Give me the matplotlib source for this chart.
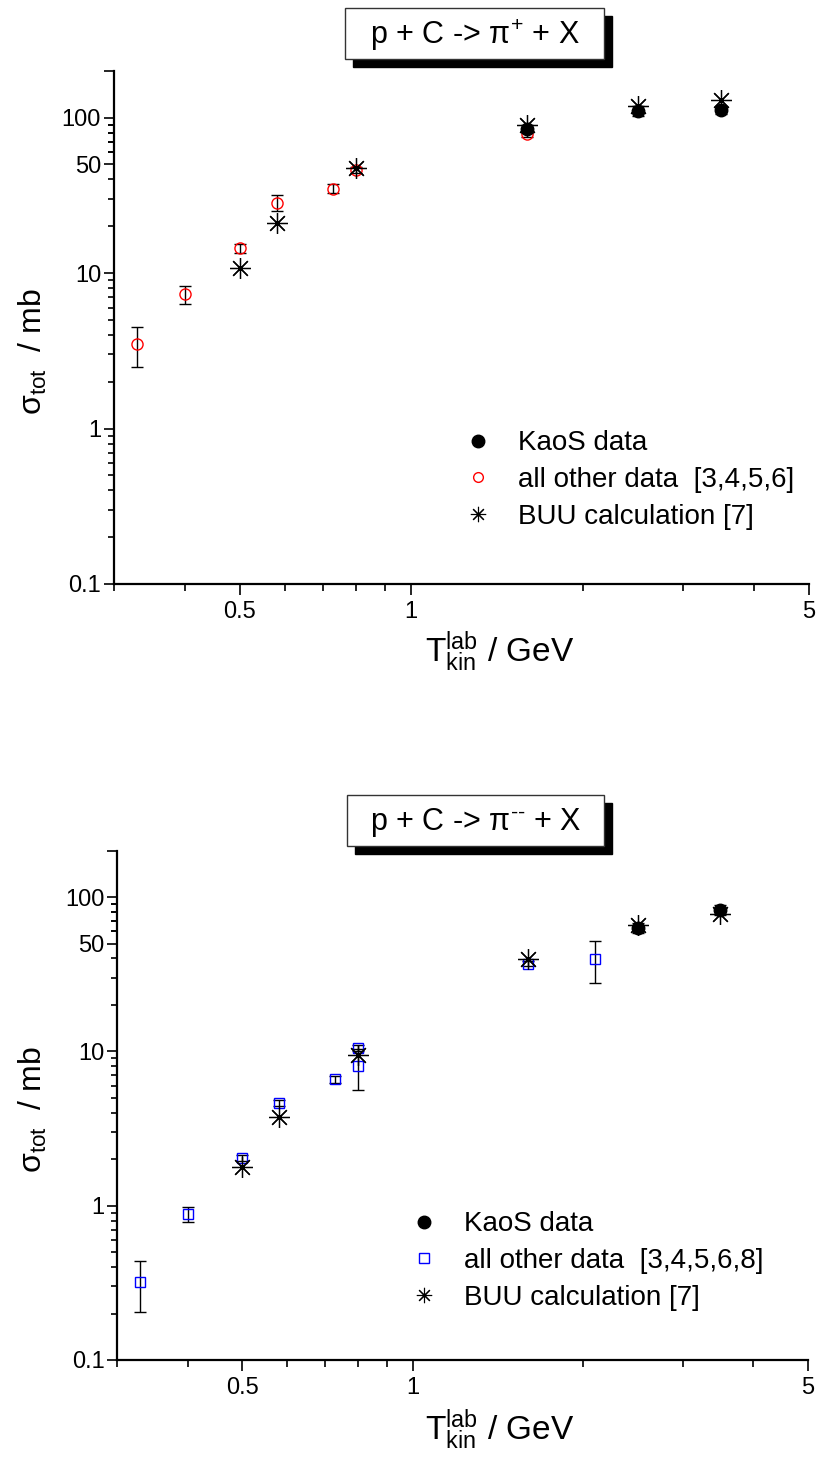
import matplotlib
matplotlib.use("Agg")
import matplotlib.pyplot as plt
from matplotlib.lines import Line2D
from matplotlib.patches import Rectangle
from matplotlib.ticker import FixedLocator, NullFormatter, FixedFormatter

plt.rcParams['font.family'] = ['Liberation Sans', 'DejaVu Sans']
plt.rcParams['mathtext.fontset'] = 'custom'
plt.rcParams['mathtext.rm'] = 'Liberation Sans'
plt.rcParams['mathtext.it'] = 'Liberation Sans:italic'
plt.rcParams['mathtext.bf'] = 'Liberation Sans:bold'

# ---------------- data: p + C -> pi+ + X ----------------
kaos_x_p = [1.6, 2.5, 3.5]
kaos_y_p = [84, 110, 111]
kaos_e_p = [5, 8, 5]
other_x_p = [0.33, 0.4, 0.5, 0.58, 0.73, 0.8, 1.6]
other_y_p = [3.5, 7.3, 14.4, 28.4, 34.9, 45.9, 78]
other_e_p = [1.0, 1.0, 1.0, 3.5, 2.3, 2.0, 3.0]
buu_x_p = [0.5, 0.58, 0.8, 1.6, 2.5, 3.5]
buu_y_p = [10.8, 20.9, 47.2, 89.3, 118, 130]

# ---------------- data: p + C -> pi- + X ----------------
kaos_x_m = [2.5, 3.5]
kaos_y_m = [63.2, 82.4]
kaos_e_m = [5, 6]
other_x_m = [0.33, 0.4, 0.5, 0.58, 0.73, 0.8, 0.8, 1.6, 2.1]
other_y_m = [0.32, 0.88, 2.04, 4.63, 6.58, 10.5, 8.0, 37.1, 39.8]
other_e_m = [0.115, 0.1, 0.1, 0.2, 0.3, 0.5, 2.4, 1.5, 12]
buu_x_m = [0.5, 0.58, 0.8, 1.6, 2.5, 3.5]
buu_y_m = [1.77, 3.75, 9.42, 39.6, 65.8, 77.6]

x_major = [0.5, 1, 5]
x_major_labels = ['0.5', '1', '5']
x_minor = [0.3, 0.4, 0.6, 0.7, 0.8, 0.9, 2, 3, 4]
y_major = [0.1, 1, 10, 50, 100, 200]
y_major_labels = ['0.1', '1', '10', '50', '100', '']
y_minor = [m * d for d in (0.1, 1, 10) for m in range(2, 10)] + [60, 70, 80, 90]
y_minor = [v for v in y_minor if v not in (50,)]

W, H = 816, 1461
fig = plt.figure(figsize=(W / 100, H / 100), dpi=100)

def fx(px):
    return px / W

def fy(py):
    return 1 - py / H

ASTER = (8, 2, 0)

def make_axes(rect):
    ax = fig.add_axes(rect)
    ax.set_xscale('log')
    ax.set_yscale('log')
    ax.set_xlim(0.3, 5)
    ax.set_ylim(0.1, 200)
    for s in ('top', 'right'):
        ax.spines[s].set_visible(False)
    for s in ('left', 'bottom'):
        ax.spines[s].set_linewidth(1.6)
    ax.xaxis.set_major_locator(FixedLocator(x_major))
    ax.xaxis.set_major_formatter(FixedFormatter(x_major_labels))
    ax.xaxis.set_minor_locator(FixedLocator(x_minor))
    ax.xaxis.set_minor_formatter(NullFormatter())
    ax.yaxis.set_major_locator(FixedLocator(y_major))
    ax.yaxis.set_major_formatter(FixedFormatter(y_major_labels))
    ax.yaxis.set_minor_locator(FixedLocator(y_minor))
    ax.yaxis.set_minor_formatter(NullFormatter())
    ax.tick_params(axis='x', which='major', direction='out', length=8, width=1.2,
                   labelsize=17, pad=4)
    ax.tick_params(axis='x', which='minor', direction='out', length=5, width=1.2)
    ax.tick_params(axis='y', which='major', direction='out', length=7, width=1.2,
                   labelsize=17, pad=2)
    ax.tick_params(axis='y', which='minor', direction='out', length=4, width=1.2)
    return ax

def plot_panel(ax, kx, ky, ke, ox, oy, oe, bx, by, other_marker, other_color, other_ms):
    ax.errorbar(ox, oy, yerr=oe, fmt=other_marker, ms=other_ms, mfc='none',
                mec=other_color, mew=1.0, ecolor='black', elinewidth=1.0,
                capsize=4, capthick=1.0, zorder=3)
    ax.errorbar(kx, ky, yerr=ke, fmt='o', ms=9, mfc='black', mec='black',
                ecolor='black', elinewidth=1.0, capsize=4, capthick=1.0, zorder=4)
    ax.plot(bx, by, linestyle='none', marker=ASTER, ms=15, mec='black', mew=0.9,
            zorder=5)

# top panel
ax1 = make_axes([fx(113.6), fy(584), fx(809) - fx(113.6), fy(70.7) - fy(584)])
plot_panel(ax1, kaos_x_p, kaos_y_p, kaos_e_p, other_x_p, other_y_p, other_e_p,
           buu_x_p, buu_y_p, 'o', '#ff0000', 8)

# bottom panel
ax2 = make_axes([fx(117), fy(1360), fx(808) - fx(117), fy(850.6) - fy(1360)])
plot_panel(ax2, kaos_x_m, kaos_y_m, kaos_e_m, other_x_m, other_y_m, other_e_m,
           buu_x_m, buu_y_m, 's', '#0000ff', 7.5)

# legends
def add_legend(ax, other_marker, other_color, other_ms, other_label, left_px, cy_px):
    handles = [
        Line2D([], [], linestyle='none', marker='o', ms=9, mfc='black', mec='black'),
        Line2D([], [], linestyle='none', marker=other_marker, ms=other_ms, mfc='none',
               mec=other_color, mew=1.0),
        Line2D([], [], linestyle='none', marker=ASTER, ms=11, mec='black', mew=0.8),
    ]
    labels = ['KaoS data', other_label, 'BUU calculation [7]']
    ax.legend(handles, labels, loc='center left', bbox_to_anchor=(fx(left_px), fy(cy_px)),
              bbox_transform=fig.transFigure, frameon=False, fontsize=20,
              handlelength=0.9, handletextpad=1.0, labelspacing=0.38,
              borderpad=0, borderaxespad=0)

add_legend(ax1, 'o', '#ff0000', 7, 'all other data  [3,4,5,6]', 465, 480)
add_legend(ax2, 's', '#0000ff', 7, 'all other data  [3,4,5,6,8]', 411, 1261)

# axis labels
for cy in (352, 1110):
    fig.text(fx(33), fy(cy), r'$\mathrm{\sigma_{tot}}$  / mb', rotation=90,
             ha='center', va='center', fontsize=23)
for by in (662, 1440):
    fig.text(fx(500), fy(by), r'$\mathrm{T_{kin}^{lab}}$ / GeV', ha='center',
             va='baseline', fontsize=24)

# title boxes with shadow
def title_box(x0, y0, x1, y1, text):
    off = 8
    fig.add_artist(Rectangle((fx(x0 + off), fy(y1 + off)), fx(x1) - fx(x0),
                             fy(y0) - fy(y1), transform=fig.transFigure,
                             facecolor='black', edgecolor='black', zorder=10))
    fig.add_artist(Rectangle((fx(x0), fy(y1)), fx(x1) - fx(x0), fy(y0) - fy(y1),
                             transform=fig.transFigure, facecolor='white',
                             edgecolor='#333333', linewidth=1.0, zorder=11))
    fig.text(fx((x0 + x1) / 2), fy((y0 + y1) / 2 + 2), text, ha='center',
             va='center', fontsize=22, zorder=12)

title_box(345, 8, 604, 59, r'p + C -> $\mathrm{\pi}^{+}$ + X')
title_box(347, 795, 604, 846, r'p + C -> $\mathrm{\pi}^{\text{--}}$ + X')

fig.savefig('out.png', dpi=100)
